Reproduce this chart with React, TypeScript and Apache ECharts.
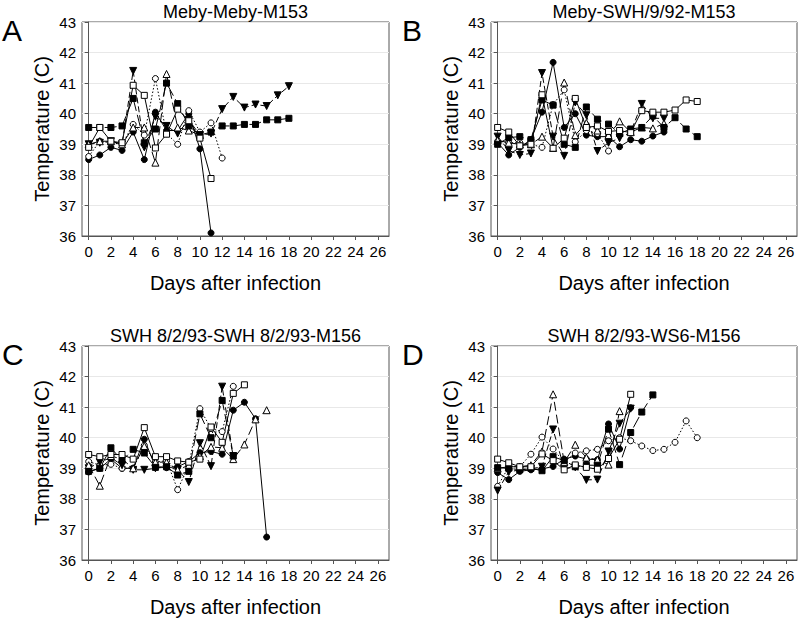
import React, { useEffect, useRef } from "react";
import * as echarts from "echarts";

// ---------- data (temperature, °C, index = day after infection) ----------
const dayTicks = [0, 2, 4, 6, 8, 10, 12, 14, 16, 18, 20, 22, 24, 26];
const panelTitles = ["Meby-Meby-M153", "Meby-SWH/9/92-M153", "SWH 8/2/93-SWH 8/2/93-M156", "SWH 8/2/93-WS6-M156"];
const panelLetters = ["A", "B", "C", "D"];

const A_fc = [38.5, 38.65, 38.9, 38.8, 39.4, 38.5, 40.05, 39.45, 39.45, 40.0, 38.85, 36.1];
const A_oc = [38.6, 39.1, 39.05, 39.0, 39.65, 39.3, 41.15, 39.35, 39.0, 40.1, 39.4, 39.7, 38.55];
const A_ft = [39.0, 39.05, 39.1, 39.0, 41.4, 38.9, 39.9, 39.6, 39.35, 39.8, 39.3, 39.35, 40.15, 40.55, 40.2, 40.3, 40.25, 40.6, 40.9];
const A_ot = [39.0, 39.1, 39.1, 39.0, 39.55, 39.55, 38.4, 41.3, 39.55, 39.45, 39.3];
const A_fs = [39.55, 39.55, 39.55, 39.6, 40.5, 39.05, 39.5, 41.0, 40.33, 39.6, 39.3, 39.4, 39.6, 39.6, 39.65, 39.65, 39.8, 39.8, 39.85];
const A_os = [38.9, 39.55, 39.1, 39.05, 40.93, 40.6, 38.88, 39.33, 40.15, 39.77, 39.2, 37.88];

const B_fc = [39.05, 38.65, 38.9, 39.15, 40.05, 41.68, 39.55, 40.0, 39.3, 39.25, 39.25, 38.92, 39.15, 39.1, 39.27, 39.4];
const B_oc = [39.1, 39.05, 39.05, 39.0, 38.9, 40.3, 40.78, 39.08, 39.45, 39.35, 38.78];
const B_ft = [39.25, 38.8, 38.65, 38.7, 41.33, 39.25, 38.62, 40.37, 39.95, 38.78, 39.05, 39.2, 39.4, 40.32, 39.85, 39.85];
const B_ot = [39.13, 39.05, 39.0, 39.0, 39.25, 38.88, 41.02, 39.3, 39.7, 39.45, 39.3, 39.75, 39.4, 39.55, 39.52, 39.68];
const B_fs = [39.0, 39.22, 39.25, 39.15, 40.45, 40.28, 39.0, 38.9, 40.22, 39.82, 39.66, 39.35, 39.5, 39.55, 39.93, 39.55, 39.87, 39.5, 39.25];
const B_os = [39.55, 39.4, 38.95, 39.0, 40.62, 38.87, 39.2, 40.5, 39.55, 39.6, 39.42, 39.45, 39.38, 40.1, 40.05, 40.05, 40.12, 40.45, 40.4];

const C_fc = [38.88, 39.0, 39.3, 39.0, 39.0, 39.95, 39.05, 39.02, 39.05, 39.22, 39.51, 39.55, 39.46, 40.9, 41.16, 40.62, 36.75];
const C_oc = [39.22, 39.1, 39.13, 39.0, 39.0, 39.75, 39.2, 39.25, 38.3, 39.1, 40.95, 40.3, 40.2, 41.68];
const C_ft = [39.0, 39.2, 39.35, 39.1, 38.95, 38.95, 39.0, 39.05, 38.95, 38.55, 39.82, 39.07, 41.67, 39.4];
const C_ot = [39.1, 38.43, 39.4, 39.3, 39.0, 39.73, 39.2, 39.2, 38.95, 39.1, 39.4, 39.7, 39.67, 39.3, 39.78, 40.6, 40.9];
const C_fs = [38.9, 39.0, 39.67, 39.25, 39.62, 39.5, 39.03, 39.05, 38.78, 38.9, 40.78, 40.0, 41.22, 39.4];
const C_os = [39.45, 39.38, 39.45, 39.45, 39.3, 40.33, 39.38, 39.38, 39.24, 39.2, 39.3, 40.35, 39.85, 41.45, 41.73];

const D_fc = [38.86, 38.63, 38.9, 38.95, 38.98, 39.06, 39.3, 39.4, 39.3, 39.28, 40.45, 39.63, 40.98];
const D_oc = [38.41, 39.05, 39.05, 39.46, 40.02, 39.63, 39.2, 39.5, 39.57, 39.62, 39.9, 40.0, 39.9, 39.73, 39.58, 39.62, 39.85, 40.55, 40.0];
const D_ft = [38.27, 38.88, 38.95, 38.98, 39.05, 40.27, 39.0, 39.03, 38.62, 38.63, 39.55, 40.46, 40.95];
const D_ot = [39.0, 39.05, 39.05, 39.1, 39.55, 41.42, 39.2, 39.77, 39.35, 39.28, 39.12, 40.87];
const D_fs = [39.02, 39.0, 38.95, 39.0, 38.92, 39.38, 39.25, 39.05, 39.1, 39.1, 40.28, 39.12, 40.17, 40.84, 41.4];
const D_os = [39.3, 39.18, 39.05, 39.05, 39.47, 39.25, 38.95, 39.11, 39.03, 38.97, 39.32, 39.95, 41.42];

const panels = [
  [A_fc, A_oc, A_ft, A_ot, A_fs, A_os],
  [B_fc, B_oc, B_ft, B_ot, B_fs, B_os],
  [C_fc, C_oc, C_ft, C_ot, C_fs, C_os],
  [D_fc, D_oc, D_ft, D_ot, D_fs, D_os],
];

// marker / line styles for the six animals (order as in arrays above)
const styles = [
  { symbol: "circle", filled: true, rotate: 0, dash: "solid" as any, size: 6 },
  { symbol: "circle", filled: false, rotate: 0, dash: [1.5, 2], size: 6 },
  { symbol: "triangle", filled: true, rotate: 180, dash: [6, 3], size: 7 },
  { symbol: "triangle", filled: false, rotate: 0, dash: [9, 4], size: 7 },
  { symbol: "rect", filled: true, rotate: 0, dash: [12, 4], size: 6 },
  { symbol: "rect", filled: false, rotate: 0, dash: "solid" as any, size: 6 },
];

const FONT = "Liberation Sans, Arial, sans-serif";

export default function App() {
  const ref = useRef<HTMLDivElement>(null);
  useEffect(() => {
    if (!ref.current) return;
    const chart = echarts.init(ref.current, null, { renderer: "svg" });
    const grids = [
      { left: 82, top: 22, width: 307, height: 214 },
      { left: 491, top: 22, width: 306, height: 214 },
      { left: 82, top: 346, width: 307, height: 214 },
      { left: 491, top: 346, width: 306, height: 214 },
    ];
    const series: any[] = [];
    panels.forEach((arrs, pi) => {
      arrs.forEach((arr, si) => {
        const st = styles[si];
        series.push({
          type: "line",
          xAxisIndex: pi,
          yAxisIndex: pi,
          data: arr.map((v, i) => [i, v]),
          symbol: st.symbol,
          symbolSize: st.size,
          symbolRotate: st.rotate,
          showSymbol: true,
          silent: true,
          z: 3,
          itemStyle: { color: st.filled ? "#000" : "#fff", borderColor: "#000", borderWidth: 1 },
          lineStyle: { color: "#000", width: 1, type: st.dash },
        });
      });
    });
    const graphics: any[] = [];
    grids.forEach((g, i) => {
      graphics.push({
        type: "text",
        left: i % 2 === 0 ? 2 : 402,
        top: g.top - 7,
        style: { text: panelLetters[i], fontSize: 30, fontFamily: FONT, fill: "#000" },
      });
      graphics.push({
        type: "text",
        x: g.left + g.width / 2,
        y: g.top - 10,
        style: {
          text: panelTitles[i],
          fontSize: 18,
          fontFamily: FONT,
          fill: "#000",
          textAlign: "center",
          textVerticalAlign: "middle",
        },
      });
    });
    chart.setOption({
      animation: false,
      grid: grids.map((g) => ({ ...g, show: true, borderColor: "#555", borderWidth: 1, backgroundColor: "transparent" })),
      xAxis: grids.map((_, i) => ({
        type: "value",
        gridIndex: i,
        min: -0.6,
        max: 27,
        axisLine: { show: true, onZero: false, lineStyle: { color: "#555" } },
        axisTick: { show: true, customValues: dayTicks, length: 4, lineStyle: { color: "#555" } },
        axisLabel: { customValues: dayTicks, fontSize: 15, color: "#000", fontFamily: FONT, margin: 8 },
        splitLine: { show: false },
        name: "Days after infection",
        nameLocation: "middle",
        nameGap: 37,
        nameTextStyle: { fontSize: 20, color: "#000", fontFamily: FONT },
      })),
      yAxis: grids.map((_, i) => ({
        type: "value",
        gridIndex: i,
        min: 36,
        max: 43,
        interval: 1,
        axisLine: { show: true, lineStyle: { color: "#555" } },
        axisTick: { show: true, length: 4, lineStyle: { color: "#555" } },
        axisLabel: { fontSize: 15, color: "#000", fontFamily: FONT, margin: 6 },
        splitLine: { show: true, lineStyle: { color: "#e8e8e8", width: 1 } },
        name: "Temperature (C)",
        nameLocation: "middle",
        nameGap: 30,
        nameTextStyle: { fontSize: 20, color: "#000", fontFamily: FONT },
      })),
      series,
      graphic: graphics,
    });
    return () => chart.dispose();
  }, []);
  return <div ref={ref} style={{ position: "absolute", left: 0, top: 0, width: 800, height: 620, background: "#fff" }} />;
}
